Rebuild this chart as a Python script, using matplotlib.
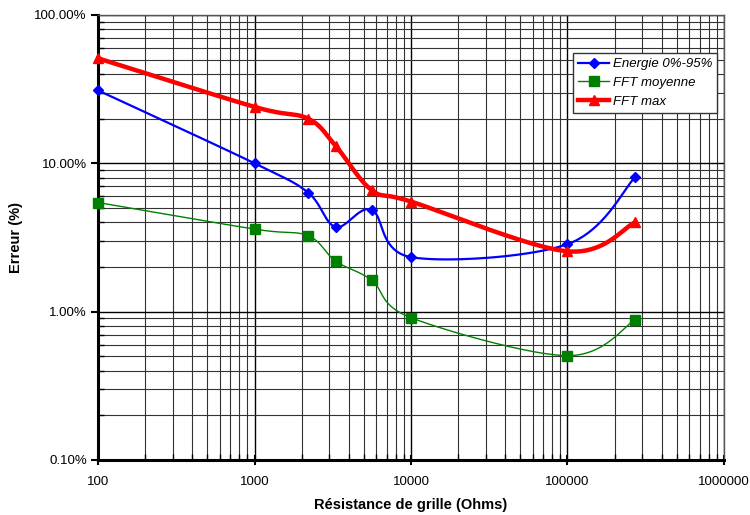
import numpy as np
import matplotlib
matplotlib.use("Agg")
import matplotlib.pyplot as plt
from matplotlib.ticker import FixedLocator, LogLocator, NullFormatter
from matplotlib.lines import Line2D

plt.rcParams['font.family'] = ['Liberation Sans', 'DejaVu Sans']

# Grid resistance (Ohms)
resistance = [100, 1000, 2200, 3300, 5600, 10000, 100000, 270000]

# Error in percent for each method
energie = [31.0, 10.0, 6.35, 3.72, 4.86, 2.33, 2.85, 8.05]
fft_moyenne = [5.44, 3.6, 3.25, 2.19, 1.63, 0.91, 0.505, 0.88]
fft_max = [51.0, 24.0, 20.0, 13.1, 6.6, 5.52, 2.55, 4.0]

series_labels = ["Energie 0%-95%", "FFT moyenne", "FFT max"]
x_tick_labels = ["100", "1000", "10000", "100000", "1000000"]
y_tick_labels = ["0.10%", "1.00%", "10.00%", "100.00%"]


def smooth_log(x, y, n=40):
    """Bezier smoothing (Catmull-Rom style) in log-log space."""
    lx = np.log10(np.asarray(x, float))
    ly = np.log10(np.asarray(y, float))
    px, py = [], []
    m = len(lx)
    for i in range(m - 1):
        p0 = (lx[i - 1], ly[i - 1]) if i > 0 else (lx[i], ly[i])
        p1 = (lx[i], ly[i])
        p2 = (lx[i + 1], ly[i + 1])
        p3 = (lx[i + 2], ly[i + 2]) if i + 2 < m else (lx[i + 1], ly[i + 1])
        c1 = (p1[0] + (p2[0] - p0[0]) / 6, p1[1] + (p2[1] - p0[1]) / 6)
        c2 = (p2[0] - (p3[0] - p1[0]) / 6, p2[1] - (p3[1] - p1[1]) / 6)
        t = np.linspace(0, 1, n)
        bx = ((1 - t) ** 3 * p1[0] + 3 * (1 - t) ** 2 * t * c1[0]
              + 3 * (1 - t) * t ** 2 * c2[0] + t ** 3 * p2[0])
        by = ((1 - t) ** 3 * p1[1] + 3 * (1 - t) ** 2 * t * c1[1]
              + 3 * (1 - t) * t ** 2 * c2[1] + t ** 3 * p2[1])
        px.extend(bx)
        py.extend(by)
    return 10 ** np.array(px), 10 ** np.array(py)


fig = plt.figure(figsize=(7.5, 5.15), dpi=100)
ax = fig.add_axes([0.1307, 0.1068, 0.8346, 0.8642])
ax.set_xscale('log')
ax.set_yscale('log')
ax.set_xlim(100, 1e6)
ax.set_ylim(0.1, 100)

# grid
ax.set_axisbelow(True)
ax.xaxis.set_major_locator(FixedLocator([1e2, 1e3, 1e4, 1e5, 1e6]))
ax.yaxis.set_major_locator(FixedLocator([0.1, 1, 10, 100]))
ax.xaxis.set_minor_locator(LogLocator(base=10, subs=np.arange(2, 10), numticks=20))
ax.yaxis.set_minor_locator(LogLocator(base=10, subs=np.arange(2, 10), numticks=20))
ax.xaxis.set_minor_formatter(NullFormatter())
ax.yaxis.set_minor_formatter(NullFormatter())
ax.grid(True, which='major', color='black', linewidth=1.0)
ax.grid(True, which='minor', color='#333333', linewidth=0.8)

ax.set_xticklabels(x_tick_labels)
ax.set_yticklabels(y_tick_labels)

ax.tick_params(axis='x', which='major', direction='inout', length=7, width=1.5,
               labelsize=9.5, pad=8)
ax.tick_params(axis='x', which='minor', direction='in', length=4, width=1.0)
ax.tick_params(axis='y', which='major', direction='out', length=5, width=1.5,
               labelsize=9.5, pad=3)
ax.tick_params(axis='y', which='minor', direction='in', length=4, width=1.0)

for side in ('left', 'bottom'):
    ax.spines[side].set_linewidth(2.2)
    ax.spines[side].set_color('black')
for side in ('top', 'right'):
    ax.spines[side].set_linewidth(1.0)
    ax.spines[side].set_color('#555555')

# series
sx, sy = smooth_log(resistance, energie)
ax.plot(sx, sy, color='#0000FF', linewidth=1.6, zorder=4, clip_on=False)
ax.plot(resistance, energie, linestyle='none', marker='D', markersize=5,
        color='#0000FF', zorder=5, clip_on=False)

sx, sy = smooth_log(resistance, fft_moyenne)
ax.plot(sx, sy, color='#008000', linewidth=1.0, zorder=4, clip_on=False)
ax.plot(resistance, fft_moyenne, linestyle='none', marker='s', markersize=7,
        color='#008000', zorder=5, clip_on=False)

sx, sy = smooth_log(resistance, fft_max)
ax.plot(sx, sy, color='#FF0000', linewidth=3.2, zorder=4, clip_on=False)
ax.plot(resistance, fft_max, linestyle='none', marker='^', markersize=7,
        color='#FF0000', zorder=5, clip_on=False)

ax.set_xlabel("Résistance de grille (Ohms)", fontsize=10.5, fontweight='bold', labelpad=7)
ax.set_ylabel("Erreur (%)", fontsize=10.5, fontweight='bold', labelpad=8)

handles = [
    Line2D([], [], color='#0000FF', linewidth=1.6, marker='D', markersize=5),
    Line2D([], [], color='#008000', linewidth=1.0, marker='s', markersize=7),
    Line2D([], [], color='#FF0000', linewidth=3.2, marker='^', markersize=7),
]
leg = ax.legend(handles, series_labels, loc='upper left',
                bbox_to_anchor=(0.759, 0.915), fancybox=False, framealpha=1,
                edgecolor='#333333', prop={'style': 'italic', 'size': 9.5},
                handlelength=2.3, handletextpad=0.3, borderpad=0.4,
                labelspacing=0.5, borderaxespad=0)
leg.get_frame().set_linewidth(1.0)
leg.set_zorder(6)

fig.savefig("out.png", dpi=100)
